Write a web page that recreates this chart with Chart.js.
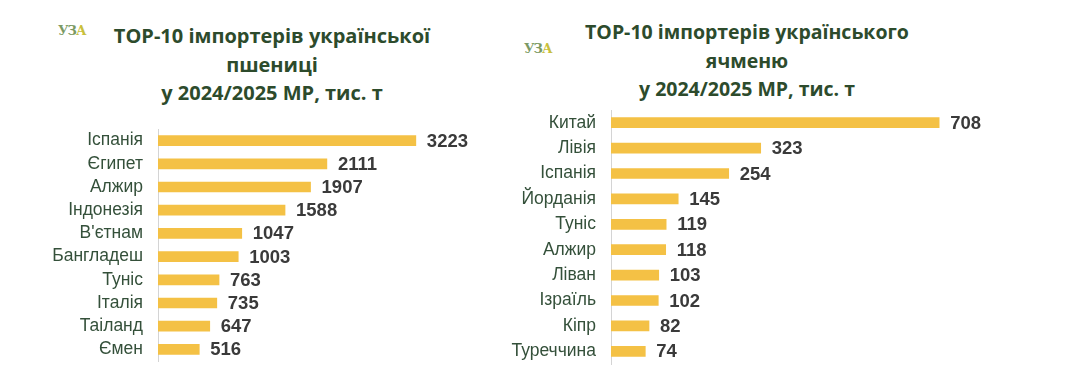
<!DOCTYPE html>
<html>
<head>
<meta charset="utf-8">
<script src="https://cdn.jsdelivr.net/npm/chart.js@4/dist/chart.umd.min.js"></script>
<style>
  body { margin: 0; background: #fff; }
  #wrap { position: relative; width: 1080px; height: 390px; overflow: hidden; }
  canvas { position: absolute; top: 0; }
  .title {
    position: absolute; text-align: center; color: #2d4b2c;
    font-family: "Open Sans", sans-serif; font-weight: 700; font-size: 20px; line-height: 28.5px;
  }
  .logo {
    position: absolute; font-family: "DejaVu Serif", serif; font-weight: 700; font-size: 13px;
    color: #7b9a63; letter-spacing: -1px;
  }
  .logo span { color: #c9c03c; }
</style>
</head>
<body>
<div id="wrap">
  <div class="logo" style="left:58px; top:23px;">УЗ<span>А</span></div>
  <div class="title" style="left:90px; width:364px; top:22px;">ТОР-10 імпортерів української<br>пшениці<br>у 2024/2025 МР, тис. т</div>
  <div class="logo" style="left:524px; top:41px;">УЗ<span>А</span></div>
  <div class="title" style="left:562px; width:370px; top:18px; font-size:19.5px;">ТОР-10 імпортерів українського<br>ячменю<br>у 2024/2025 МР, тис. т</div>
  <canvas id="wheat" width="500" height="390" style="left:0;"></canvas>
  <canvas id="barley" width="580" height="390" style="left:500px;"></canvas>
</div>
<script>
const wheatCountries = ['Іспанія', 'Єгипет', 'Алжир', 'Індонезія', "В'єтнам", 'Бангладеш', 'Туніс', 'Італія', 'Таіланд', 'Ємен'];
const wheatValues = [3223, 2111, 1907, 1588, 1047, 1003, 763, 735, 647, 516];

const barleyCountries = ['Китай', 'Лівія', 'Іспанія', 'Йорданія', 'Туніс', 'Алжир', 'Ліван', 'Ізраїль', 'Кіпр', 'Туреччина'];
const barleyValues = [708, 323, 254, 145, 119, 118, 103, 102, 82, 74];

const barColor = '#f4c145';

// value labels at the end of each bar
const valueLabels = {
  id: 'valueLabels',
  afterDatasetsDraw(chart) {
    const ctx = chart.ctx;
    const meta = chart.getDatasetMeta(0);
    ctx.save();
    ctx.font = 'bold 18.5px "Liberation Sans", Arial, sans-serif';
    ctx.fillStyle = '#3a3a3a';
    ctx.textAlign = 'left';
    ctx.textBaseline = 'middle';
    meta.data.forEach((bar, i) => {
      ctx.fillText(chart.data.datasets[0].data[i], bar.x + 11, bar.y + 1);
    });
    ctx.restore();
  }
};

function makeChart(id, labels, values, opts) {
  return new Chart(document.getElementById(id), {
    type: 'bar',
    data: {
      labels: labels,
      datasets: [{
        data: values,
        backgroundColor: barColor,
        barThickness: 10,
        borderWidth: 0
      }]
    },
    options: {
      indexAxis: 'y',
      responsive: false,
      animation: false,
      layout: { padding: { top: opts.top, bottom: opts.bottom, right: opts.right, left: 0 } },
      plugins: { legend: { display: false }, tooltip: { enabled: false } },
      scales: {
        x: { display: false, min: 0, max: opts.max },
        y: {
          grid: { display: false },
          border: { display: true, color: '#d4d4d4', width: 1 },
          ticks: {
            color: '#34503a',
            padding: 7,
            autoSkip: false,
            font: { family: '"Liberation Sans", Arial, sans-serif', size: 17.5 }
          },
          afterFit(scale) { scale.width = opts.axisLeft; }
        }
      }
    },
    plugins: [valueLabels]
  });
}

// wheat: axis at x=158, plot width 320, rows from ~129 to ~361
makeChart('wheat', wheatCountries, wheatValues, { top: 129, bottom: 29, right: 22, max: 4000, axisLeft: 158 });
// barley: axis at x=611 (111 in canvas), plot width 400, rows from ~110 to ~364
makeChart('barley', barleyCountries, barleyValues, { top: 110, bottom: 26, right: 69, max: 863, axisLeft: 111 });
</script>
</body>
</html>
